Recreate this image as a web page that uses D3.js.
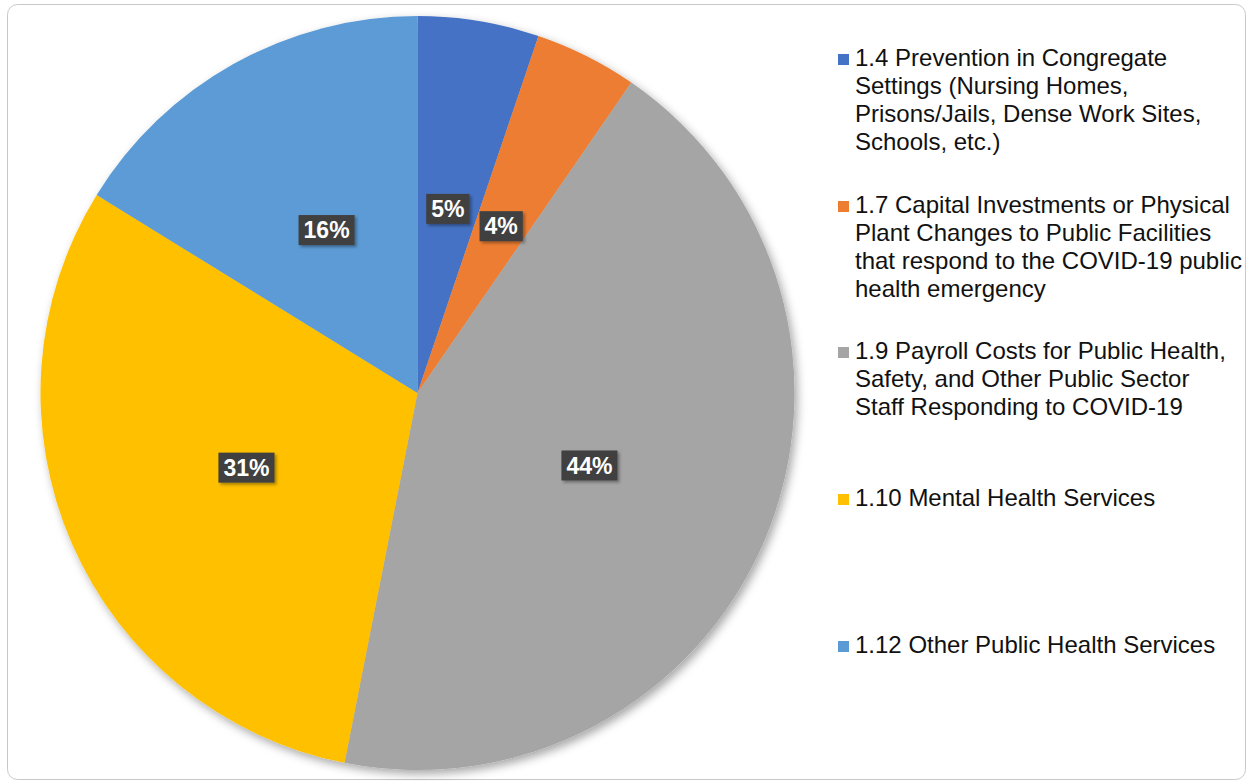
<!DOCTYPE html>
<html>
<head>
<meta charset="utf-8">
<script src="https://cdn.jsdelivr.net/npm/d3@7"></script>
<style>
  html, body { margin: 0; padding: 0; background: #fff; }
  svg { display: block; font-family: "Liberation Sans", Arial, sans-serif; }
</style>
</head>
<body>
<svg id="chart" width="1250" height="781"></svg>
<script>
const categories = ["1.4", "1.7", "1.9", "1.10", "1.12"];
const legendLabels = [
  ["1.4 Prevention in Congregate", "Settings (Nursing Homes,", "Prisons/Jails, Dense Work Sites,", "Schools, etc.)"],
  ["1.7 Capital Investments or Physical", "Plant Changes to Public Facilities", "that respond to the COVID-19 public", "health emergency"],
  ["1.9 Payroll Costs for Public Health,", "Safety, and Other Public Sector", "Staff Responding to COVID-19"],
  ["1.10 Mental Health Services"],
  ["1.12 Other Public Health Services"]
];
const values = [5.2, 4.4, 43.5, 30.7, 16.2];
const colors = ["#4472C4", "#ED7D31", "#A5A5A5", "#FFC000", "#5B9BD5"];

const svg = d3.select("#chart");
const defs = svg.append("defs");
const sh = defs.append("filter").attr("id", "pieShadow")
  .attr("x", "-10%").attr("y", "-10%").attr("width", "130%").attr("height", "130%");
sh.append("feDropShadow").attr("dx", 3).attr("dy", 4).attr("stdDeviation", 5)
  .attr("flood-color", "#000").attr("flood-opacity", 0.35);
const lsh = defs.append("filter").attr("id", "lblShadow")
  .attr("x", "-20%").attr("y", "-20%").attr("width", "150%").attr("height", "150%");
lsh.append("feDropShadow").attr("dx", 2).attr("dy", 2).attr("stdDeviation", 1.5)
  .attr("flood-color", "#000").attr("flood-opacity", 0.35);

// frame
svg.append("rect").attr("x", 7.5).attr("y", 4.5).attr("width", 1238).attr("height", 775)
  .attr("rx", 10).attr("fill", "#fff").attr("stroke", "#c9c9c9").attr("stroke-width", 1);

const cx = 417.5, cy = 393, R = 377;
const color = d3.scaleOrdinal().domain(categories).range(colors);
const pie = d3.pie().sort(null).value(d => d.v);
const data = categories.map((c, i) => ({ c, v: values[i] }));
const arcs = pie(data);
const arc = d3.arc().innerRadius(0).outerRadius(R);
const labelArc = d3.arc().innerRadius(R * 0.495).outerRadius(R * 0.495);

const g = svg.append("g").attr("transform", `translate(${cx},${cy})`);
g.append("g").attr("filter", "url(#pieShadow)")
  .selectAll("path").data(arcs).join("path")
  .attr("d", arc).attr("fill", d => color(d.data.c));

const total = d3.sum(values);
const lg = g.selectAll("g.lbl").data(arcs).join("g").attr("class", "lbl")
  .attr("transform", d => `translate(${labelArc.centroid(d)})`);
lg.each(function(d) {
  const sel = d3.select(this);
  const txt = Math.round(d.data.v / total * 100) + "%";
  const t = sel.append("text").attr("text-anchor", "middle").attr("dy", "0.36em")
    .attr("font-size", 23).attr("font-weight", "bold").attr("fill", "#fff").text(txt);
  const bb = t.node().getBBox();
  sel.insert("rect", "text")
    .attr("x", -bb.width / 2 - 5).attr("y", -15).attr("width", bb.width + 10).attr("height", 30)
    .attr("fill", "#404040").attr("filter", "url(#lblShadow)");
});

// legend
const firstBaselines = [66, 213, 359, 506, 653];
const leg = svg.append("g");
legendLabels.forEach((lines, i) => {
  const y0 = firstBaselines[i];
  leg.append("rect").attr("x", 838).attr("y", y0 - 12).attr("width", 11).attr("height", 11)
    .attr("fill", colors[i]);
  const t = leg.append("text").attr("x", 855).attr("y", y0)
    .attr("font-size", 24).attr("fill", "#111");
  lines.forEach((ln, j) => {
    t.append("tspan").attr("x", 855).attr("y", y0 + j * 28).text(ln);
  });
});
</script>
</body>
</html>
